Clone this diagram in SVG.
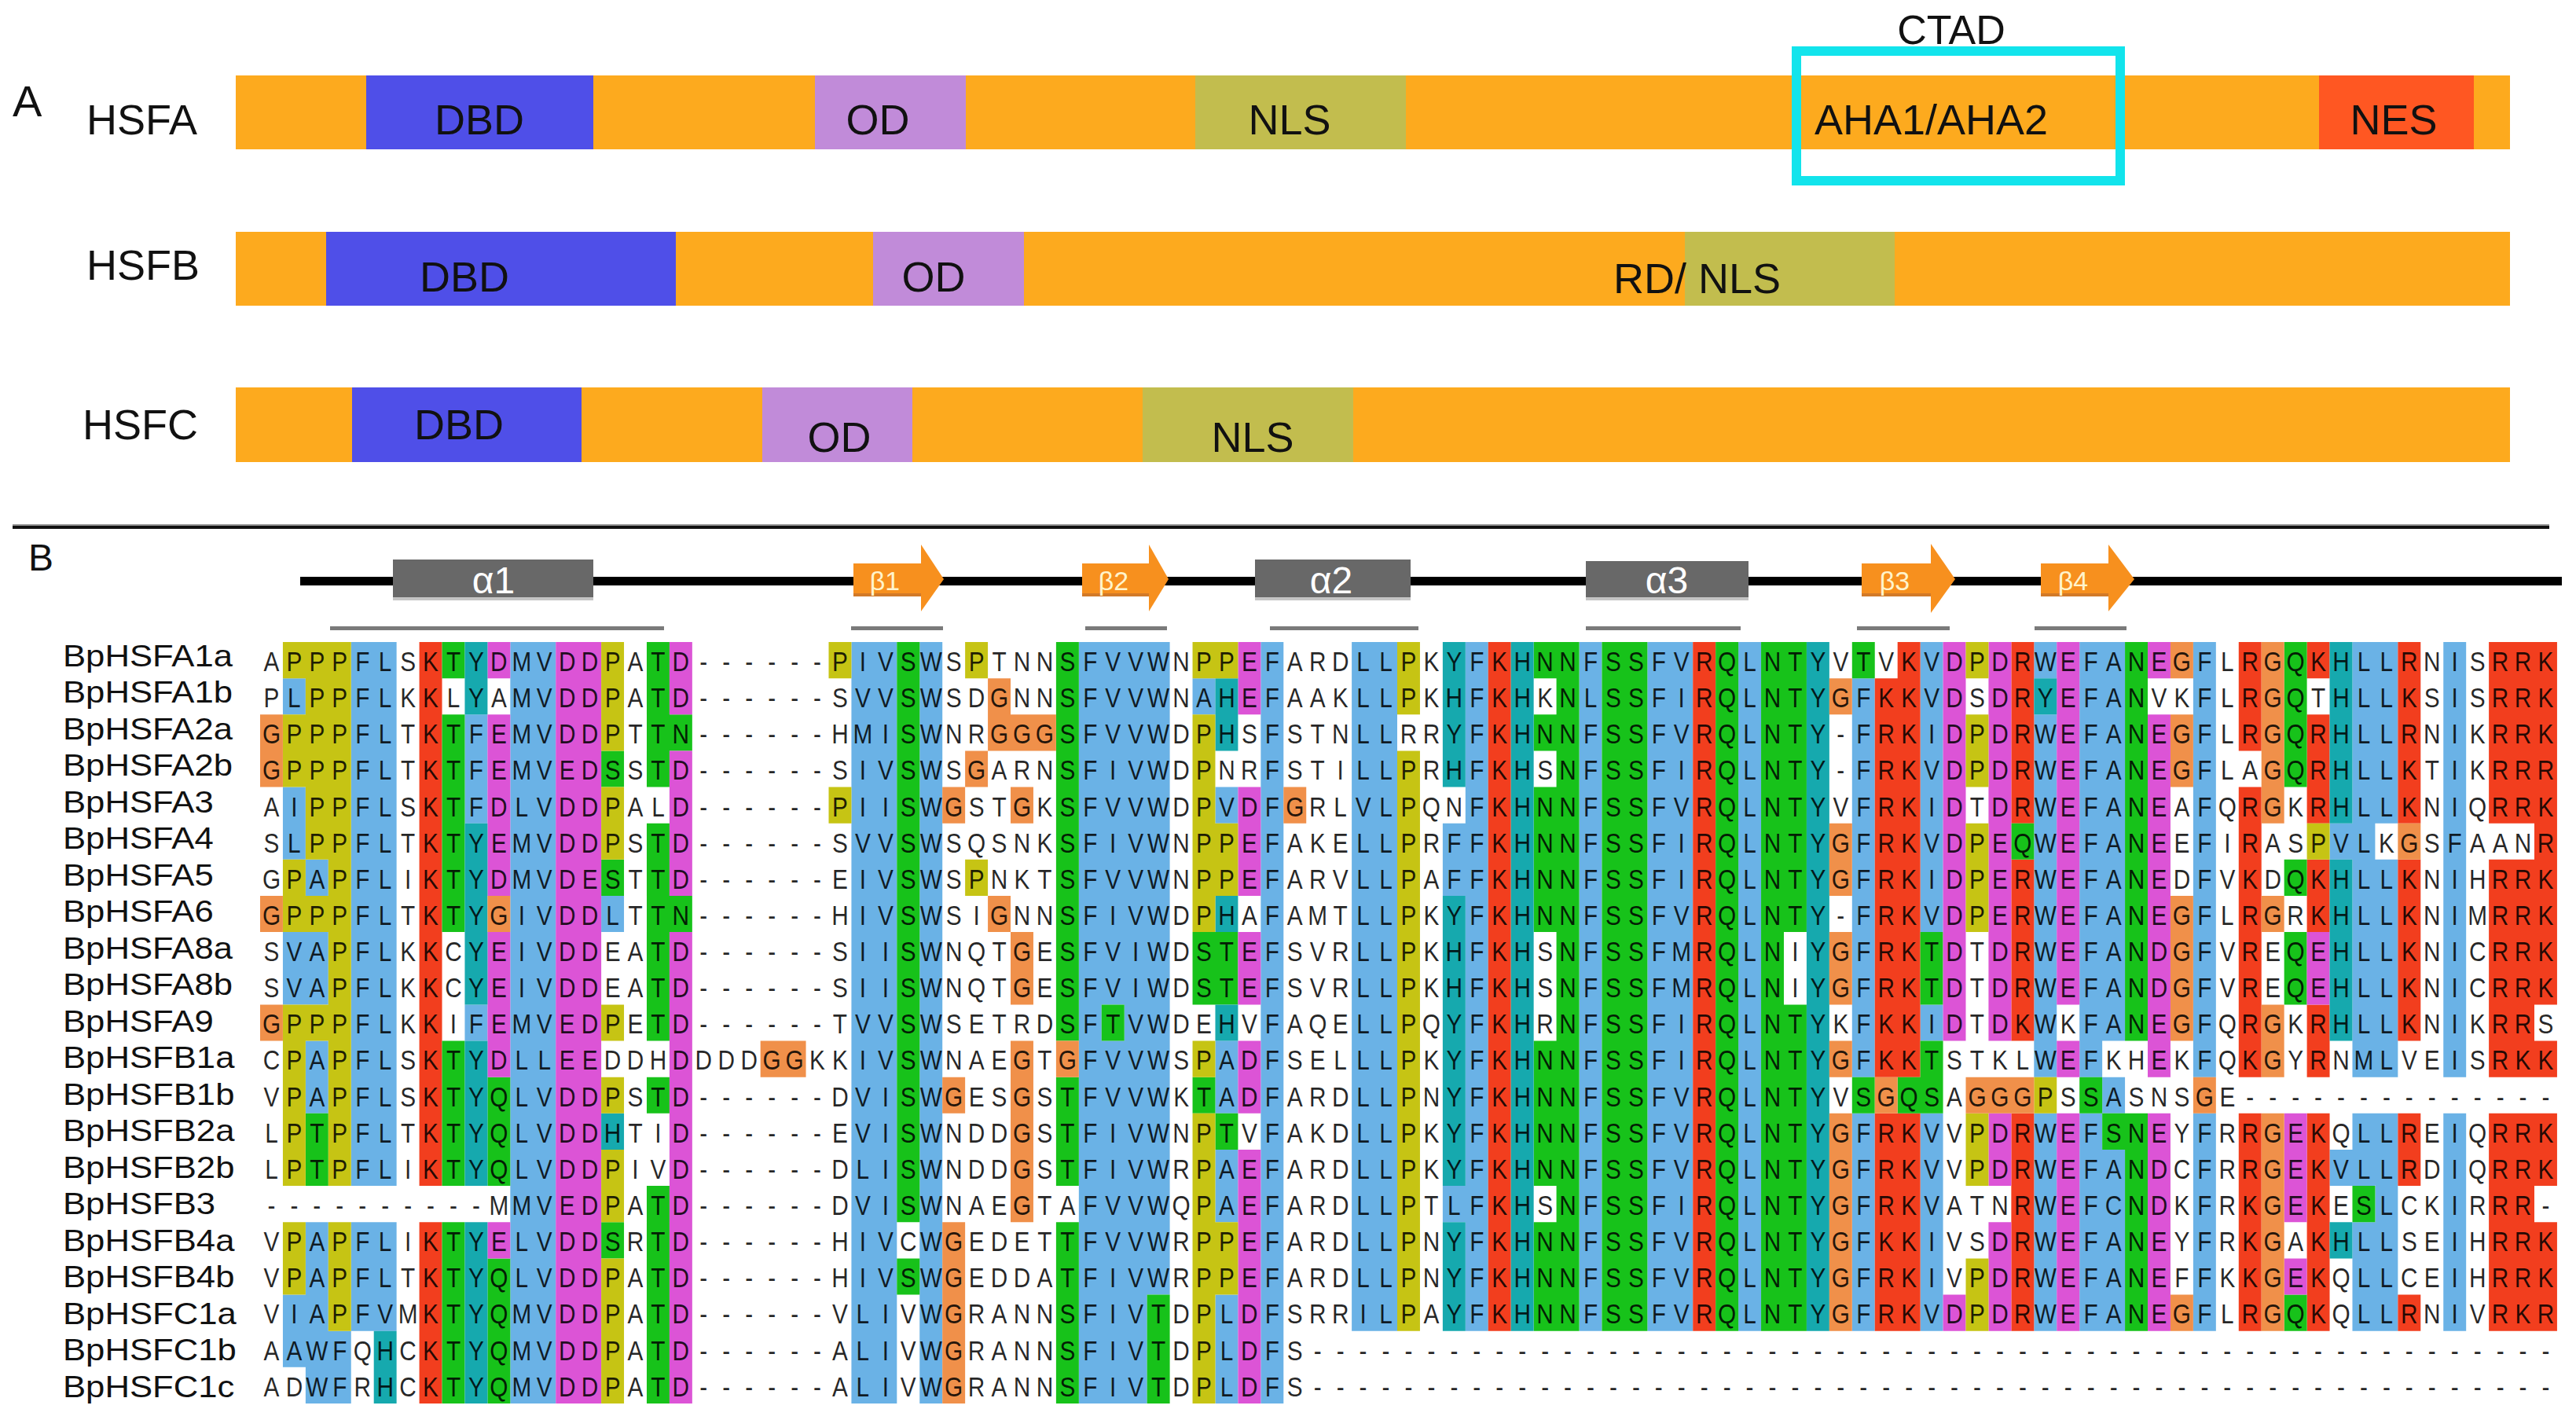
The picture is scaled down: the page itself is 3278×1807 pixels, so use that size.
<svg xmlns="http://www.w3.org/2000/svg" width="3278" height="1807" viewBox="0 0 3278 1807">
<style>
text{font-family:"Liberation Sans",Arial,sans-serif}
.lab{font-size:54px;fill:#111}
.seg{font-size:54px;fill:#111;text-anchor:middle}
.or{fill:#FDAA1E}.dbd{fill:#4F4FE8}.od{fill:#C18BD9}.nls{fill:#C2BD4E}.nes{fill:#FF5722}
.b{fill:#6AB2E6}.r{fill:#F23E1E}.g{fill:#17C21A}.m{fill:#DC54D6}.c{fill:#16A9AE}.y{fill:#C6C414}.o{fill:#F0904A}
.res{font-size:35px;text-anchor:middle;fill:#000;fill-opacity:0.85}
.nm{font-size:39px;fill:#111}
.hx{fill:#686868}.hxs{fill:#C4C4C4}
.st{fill:#F7901E}.sts{fill:#D27A28}
.ul{fill:#7A7A7A}
.al{font-size:48px;fill:#fff;text-anchor:middle}
.bl{font-size:34px;fill:#FFF4CC;text-anchor:middle}
</style>
<rect width="3278" height="1807" fill="#fff"/>

<g id="panel-A">
<text x="16" y="148" style="font-size:56px" fill="#111">A</text>
<g id="hsfa">
<text class="lab" x="110" y="171">HSFA</text>
<rect class="or" x="300" y="96" width="2894" height="94"/>
<rect class="dbd" x="466" y="96" width="289" height="94"/>
<rect class="od" x="1037" y="96" width="192" height="94"/>
<rect class="nls" x="1521" y="96" width="268" height="94"/>
<rect class="nes" x="2951" y="96" width="197" height="94"/>
<text class="seg" x="610" y="171">DBD</text>
<text class="seg" x="1117" y="171">OD</text>
<text class="seg" x="1641" y="171">NLS</text>
<text class="lab" x="2309" y="171">AHA1/AHA2</text>
<text class="seg" x="3046" y="171">NES</text>
</g>
<g id="ctad">
<rect x="2286" y="65" width="412" height="165" fill="none" stroke="#12E4EC" stroke-width="12"/>
<text x="2483" y="56" style="font-size:52px" fill="#111" text-anchor="middle">CTAD</text>
</g>
<g id="hsfb">
<text class="lab" x="110" y="356">HSFB</text>
<rect class="or" x="300" y="295" width="2894" height="94"/>
<rect class="dbd" x="415" y="295" width="445" height="94"/>
<rect class="od" x="1111" y="295" width="192" height="94"/>
<rect class="nls" x="2144" y="295" width="267" height="94"/>
<text class="seg" x="591" y="371">DBD</text>
<text class="seg" x="1188" y="371">OD</text>
<text class="lab" x="2053" y="373">RD/ NLS</text>
</g>
<g id="hsfc">
<text class="lab" x="105" y="559">HSFC</text>
<rect class="or" x="300" y="493" width="2894" height="95"/>
<rect class="dbd" x="448" y="493" width="292" height="95"/>
<rect class="od" x="970" y="493" width="191" height="95"/>
<rect class="nls" x="1454" y="493" width="268" height="95"/>
<text class="seg" x="584" y="559">DBD</text>
<text class="seg" x="1068" y="575">OD</text>
<text class="seg" x="1594" y="575">NLS</text>
</g>
</g>

<g id="separator">
<rect x="16" y="667" width="3228" height="2" fill="#999"/>
<rect x="16" y="669" width="3228" height="4" fill="#111"/>
</g>

<g id="panel-B">
<text x="36" y="726" style="font-size:48px" fill="#111">B</text>
<g id="secondary-structure">
<rect x="382" y="734" width="2878" height="11" fill="#000"/>
<g id="a1"><rect class="hx" x="500" y="712" width="255" height="51"/><rect class="hxs" x="500" y="760" width="255" height="4"/><text class="al" x="628" y="755">α1</text></g>
<g id="b1"><rect class="st" x="1086" y="717" width="86" height="42"/><rect class="sts" x="1086" y="755" width="86" height="4"/><polygon class="st" points="1172,693 1201,737 1172,778"/><text class="bl" x="1126" y="751">β1</text></g>
<g id="b2"><rect class="st" x="1377" y="717" width="85" height="42"/><rect class="sts" x="1377" y="755" width="85" height="4"/><polygon class="st" points="1462,693 1487,737 1462,778"/><text class="bl" x="1417" y="751">β2</text></g>
<g id="a2"><rect class="hx" x="1597" y="712" width="198" height="51"/><rect class="hxs" x="1597" y="760" width="198" height="4"/><text class="al" x="1694" y="755">α2</text></g>
<g id="a3"><rect class="hx" x="2018" y="714" width="207" height="49"/><rect class="hxs" x="2018" y="760" width="207" height="4"/><text class="al" x="2121" y="755">α3</text></g>
<g id="b3"><rect class="st" x="2369" y="717" width="88" height="42"/><rect class="sts" x="2369" y="755" width="88" height="4"/><polygon class="st" points="2457,692 2488,737 2457,780"/><text class="bl" x="2411" y="751">β3</text></g>
<g id="b4"><rect class="st" x="2597" y="717" width="86" height="42"/><rect class="sts" x="2597" y="755" width="86" height="4"/><polygon class="st" points="2683,693 2716,737 2683,778"/><text class="bl" x="2638" y="751">β4</text></g>
<g id="underlines">
<rect class="ul" x="420" y="797" width="425" height="5"/>
<rect class="ul" x="1083" y="797" width="117" height="5"/>
<rect class="ul" x="1381" y="797" width="104" height="5"/>
<rect class="ul" x="1616" y="797" width="189" height="5"/>
<rect class="ul" x="2018" y="797" width="197" height="5"/>
<rect class="ul" x="2363" y="797" width="118" height="5"/>
<rect class="ul" x="2589" y="797" width="117" height="5"/>
</g>
</g>

<g id="alignment">
<g id="aln-bg" transform="matrix(28.94 0 0 46.14 331 817)">
<path class="b" d="M1 1h1v1h-1zM1 4h1v2h-1zM1 8h1v2h-1zM1 18h1v2h-1zM2 6h1v1h-1zM2 8h1v2h-1zM2 11h1v2h-1zM2 16h1v5h-1zM3 19h1v2h-1zM4 0h2v15h-2zM4 16h2v3h-2zM9 2h1v3h-1zM9 10h1v1h-1zM11 0h2v21h-2zM15 7h1v1h-1zM26 0h2v21h-2zM29 0h1v21h-1zM36 0h1v21h-1zM37 0h1v10h-1zM37 11h1v10h-1zM38 0h1v21h-1zM39 0h1v18h-1zM41 1h1v1h-1zM42 4h1v1h-1zM42 11h1v2h-1zM42 14h1v2h-1zM42 18h1v3h-1zM44 0h1v21h-1zM48 0h2v19h-2zM52 5h1v2h-1zM52 15h1v1h-1zM53 0h1v19h-1zM58 0h1v19h-1zM61 0h2v19h-2zM65 0h1v19h-1zM70 1h1v11h-1zM70 13h1v6h-1zM73 0h1v8h-1zM73 10h1v1h-1zM73 13h1v6h-1zM78 0h1v1h-1zM78 2h1v10h-1zM78 13h1v6h-1zM80 0h1v12h-1zM80 13h1v6h-1zM81 0h1v11h-1zM81 12h1v1h-1zM81 14h1v5h-1zM85 0h1v12h-1zM85 13h1v6h-1zM91 5h1v1h-1zM91 14h1v1h-1zM92 0h1v12h-1zM92 13h1v2h-1zM92 16h1v3h-1zM93 0h1v5h-1zM93 6h1v6h-1zM93 13h1v6h-1zM96 0h1v12h-1zM96 13h1v6h-1z"/>
<path class="r" d="M7 0h1v15h-1zM7 16h1v5h-1zM54 0h1v19h-1zM63 0h1v19h-1zM71 1h1v11h-1zM72 0h1v12h-1zM71 13h2v6h-2zM77 0h1v5h-1zM77 6h1v5h-1zM77 13h1v6h-1zM87 0h1v3h-1zM87 4h1v8h-1zM87 13h1v6h-1zM90 0h1v1h-1zM90 2h1v3h-1zM90 6h1v2h-1zM90 10h1v2h-1zM90 13h1v6h-1zM94 0h1v5h-1zM94 6h1v5h-1zM94 13h1v2h-1zM94 18h1v1h-1zM98 0h2v5h-2zM98 6h2v6h-2zM98 13h2v6h-2zM100 0h1v10h-1zM100 11h1v1h-1zM100 13h1v2h-1zM100 16h1v3h-1z"/>
<path class="g" d="M2 13h1v2h-1zM8 0h1v1h-1zM8 2h1v6h-1zM8 11h1v4h-1zM8 16h1v5h-1zM10 12h1v3h-1zM10 17h1v4h-1zM15 3h1v1h-1zM15 6h1v1h-1zM15 16h1v1h-1zM17 0h1v4h-1zM17 5h1v6h-1zM17 12h1v1h-1zM17 15h1v6h-1zM18 2h1v1h-1zM18 7h1v1h-1zM28 0h1v16h-1zM28 17h1v1h-1zM35 0h1v11h-1zM35 12h1v3h-1zM35 16h1v5h-1zM37 10h1v1h-1zM39 18h1v3h-1zM41 8h2v2h-2zM41 12h1v1h-1zM42 13h1v1h-1zM56 0h1v1h-1zM56 2h1v1h-1zM56 4h1v4h-1zM56 11h1v4h-1zM56 16h1v3h-1zM57 0h1v19h-1zM59 0h2v19h-2zM64 0h1v19h-1zM66 0h1v19h-1zM67 0h1v8h-1zM67 10h1v9h-1zM70 0h1v1h-1zM70 12h1v1h-1zM72 12h1v1h-1zM73 8h1v2h-1zM73 11h1v2h-1zM77 5h1v1h-1zM80 12h1v1h-1zM81 13h1v1h-1zM82 0h1v11h-1zM82 13h1v6h-1zM89 0h1v4h-1zM89 6h1v1h-1zM89 8h1v2h-1zM89 18h1v1h-1zM92 15h1v1h-1z"/>
<path class="m" d="M10 0h1v1h-1zM10 2h1v5h-1zM10 8h1v4h-1zM10 16h1v1h-1zM13 0h2v21h-2zM18 0h1v2h-1zM18 3h1v4h-1zM18 8h1v13h-1zM43 0h1v2h-1zM43 4h1v3h-1zM43 8h1v2h-1zM43 11h1v2h-1zM43 14h1v7h-1zM74 0h1v11h-1zM74 18h1v1h-1zM76 0h1v11h-1zM76 13h1v2h-1zM76 16h1v3h-1zM79 0h1v10h-1zM79 11h1v1h-1zM79 13h1v6h-1zM83 0h1v1h-1zM83 2h1v10h-1zM83 13h1v6h-1zM89 13h1v3h-1zM89 17h1v1h-1zM90 8h1v2h-1z"/>
<path class="c" d="M5 19h1v2h-1zM9 0h1v2h-1zM9 5h1v5h-1zM9 11h1v4h-1zM9 16h1v5h-1zM15 13h1v1h-1zM42 1h1v2h-1zM42 7h1v1h-1zM42 10h1v1h-1zM52 0h1v4h-1zM52 7h1v8h-1zM52 16h1v3h-1zM55 0h1v19h-1zM68 0h1v19h-1zM78 1h1v1h-1zM91 0h1v5h-1zM91 6h1v5h-1zM91 16h1v1h-1z"/>
<path class="y" d="M1 0h1v1h-1zM1 2h1v2h-1zM1 6h1v2h-1zM1 10h1v5h-1zM1 16h1v2h-1zM2 0h1v6h-1zM2 7h1v1h-1zM2 10h1v1h-1zM3 0h1v15h-1zM3 16h1v3h-1zM15 0h1v3h-1zM15 4h1v2h-1zM15 10h1v1h-1zM15 12h1v1h-1zM15 14h1v2h-1zM15 17h1v4h-1zM25 0h1v1h-1zM25 4h1v1h-1zM31 0h1v1h-1zM31 6h1v1h-1zM41 0h1v1h-1zM41 2h1v6h-1zM41 11h1v1h-1zM41 13h1v8h-1zM42 0h1v1h-1zM42 5h1v2h-1zM42 16h1v2h-1zM50 0h1v2h-1zM50 3h1v16h-1zM75 0h1v1h-1zM75 2h1v2h-1zM75 5h1v3h-1zM75 13h1v2h-1zM75 17h1v2h-1zM78 12h1v1h-1zM90 5h1v1h-1z"/>
<path class="o" d="M0 2h1v2h-1zM0 7h1v1h-1zM0 10h1v1h-1zM10 7h1v1h-1zM22 11h2v1h-2zM30 4h1v1h-1zM30 12h1v1h-1zM30 16h1v5h-1zM31 3h1v1h-1zM32 1h1v2h-1zM32 7h1v1h-1zM33 2h2v1h-2zM33 4h1v1h-1zM33 8h1v2h-1zM33 11h1v5h-1zM35 11h1v1h-1zM45 4h1v1h-1zM69 1h1v1h-1zM69 5h1v2h-1zM69 8h1v2h-1zM69 11h1v1h-1zM69 13h1v6h-1zM71 12h1v1h-1zM75 12h3v1h-3zM84 0h1v1h-1zM84 2h1v2h-1zM84 7h1v4h-1zM84 18h1v1h-1zM85 12h1v1h-1zM88 0h1v5h-1zM88 7h1v1h-1zM88 10h1v2h-1zM88 13h1v6h-1zM94 5h1v1h-1z"/>
</g>

<g id="aln-names" class="nm" transform="matrix(1.12 0 0 1 80 0)">
<text x="0" y="848">BpHSFA1a</text>
<text x="0" y="894.5">BpHSFA1b</text>
<text x="0" y="941">BpHSFA2a</text>
<text x="0" y="987.5">BpHSFA2b</text>
<text x="0" y="1034">BpHSFA3</text>
<text x="0" y="1080.5">BpHSFA4</text>
<text x="0" y="1127">BpHSFA5</text>
<text x="0" y="1173.5">BpHSFA6</text>
<text x="0" y="1220">BpHSFA8a</text>
<text x="0" y="1266.5">BpHSFA8b</text>
<text x="0" y="1313">BpHSFA9</text>
<text x="0" y="1359.5">BpHSFB1a</text>
<text x="0" y="1406">BpHSFB1b</text>
<text x="0" y="1452.5">BpHSFB2a</text>
<text x="0" y="1499">BpHSFB2b</text>
<text x="0" y="1545.5">BpHSFB3</text>
<text x="0" y="1592">BpHSFB4a</text>
<text x="0" y="1638.5">BpHSFB4b</text>
<text x="0" y="1685">BpHSFC1a</text>
<text x="0" y="1731.5">BpHSFC1b</text>
<text x="0" y="1778">BpHSFC1c</text>
</g>

<g id="aln-residues" class="res" transform="matrix(0.85118 0 0 1 331 0)">
<text y="854" x="17 51 85 119 153 187 221 255 289 323 357 391 425 459 493 527 561 595 629 663 697 731 765 799 833 867 901 935 969 1003 1037 1071 1105 1139 1173 1207 1241 1275 1309 1343 1377 1411 1445 1479 1513 1547 1581 1615 1649 1683 1717 1751 1785 1819 1853 1887 1921 1955 1989 2023 2057 2091 2125 2159 2193 2227 2261 2295 2329 2363 2397 2431 2465 2499 2533 2567 2601 2635 2669 2703 2737 2771 2805 2839 2873 2907 2941 2975 3009 3043 3077 3111 3145 3179 3213 3247 3281 3315 3349 3383 3417">APPPFLSKTYDMVDDPATD------PIVSWSPTNNSFVVWNPPEFARDLLPKYFKHNNFSSFVRQLNTYVTVKVDPDRWEFANEGFLRGQKHLLRNISRRK</text>
<text y="900.1" x="17 51 85 119 153 187 221 255 289 323 357 391 425 459 493 527 561 595 629 663 697 731 765 799 833 867 901 935 969 1003 1037 1071 1105 1139 1173 1207 1241 1275 1309 1343 1377 1411 1445 1479 1513 1547 1581 1615 1649 1683 1717 1751 1785 1819 1853 1887 1921 1955 1989 2023 2057 2091 2125 2159 2193 2227 2261 2295 2329 2363 2397 2431 2465 2499 2533 2567 2601 2635 2669 2703 2737 2771 2805 2839 2873 2907 2941 2975 3009 3043 3077 3111 3145 3179 3213 3247 3281 3315 3349 3383 3417">PLPPFLKKLYAMVDDPATD------SVVSWSDGNNSFVVWNAHEFAAKLLPKHFKHKNLSSFIRQLNTYGFKKVDSDRYEFANVKFLRGQTHLLKSISRRK</text>
<text y="946.3" x="17 51 85 119 153 187 221 255 289 323 357 391 425 459 493 527 561 595 629 663 697 731 765 799 833 867 901 935 969 1003 1037 1071 1105 1139 1173 1207 1241 1275 1309 1343 1377 1411 1445 1479 1513 1547 1581 1615 1649 1683 1717 1751 1785 1819 1853 1887 1921 1955 1989 2023 2057 2091 2125 2159 2193 2227 2261 2295 2329 2363 2397 2431 2465 2499 2533 2567 2601 2635 2669 2703 2737 2771 2805 2839 2873 2907 2941 2975 3009 3043 3077 3111 3145 3179 3213 3247 3281 3315 3349 3383 3417">GPPPFLTKTFEMVDDPTTN------HMISWNRGGGSFVVWDPHSFSTNLLRRYFKHNNFSSFVRQLNTY-FRKIDPDRWEFANEGFLRGQRHLLRNIKRRK</text>
<text y="992.4" x="17 51 85 119 153 187 221 255 289 323 357 391 425 459 493 527 561 595 629 663 697 731 765 799 833 867 901 935 969 1003 1037 1071 1105 1139 1173 1207 1241 1275 1309 1343 1377 1411 1445 1479 1513 1547 1581 1615 1649 1683 1717 1751 1785 1819 1853 1887 1921 1955 1989 2023 2057 2091 2125 2159 2193 2227 2261 2295 2329 2363 2397 2431 2465 2499 2533 2567 2601 2635 2669 2703 2737 2771 2805 2839 2873 2907 2941 2975 3009 3043 3077 3111 3145 3179 3213 3247 3281 3315 3349 3383 3417">GPPPFLTKTFEMVEDSSTD------SIVSWSGARNSFIVWDPNRFSTILLPRHFKHSNFSSFIRQLNTY-FRKVDPDRWEFANEGFLAGQRHLLKTIKRRR</text>
<text y="1038.6" x="17 51 85 119 153 187 221 255 289 323 357 391 425 459 493 527 561 595 629 663 697 731 765 799 833 867 901 935 969 1003 1037 1071 1105 1139 1173 1207 1241 1275 1309 1343 1377 1411 1445 1479 1513 1547 1581 1615 1649 1683 1717 1751 1785 1819 1853 1887 1921 1955 1989 2023 2057 2091 2125 2159 2193 2227 2261 2295 2329 2363 2397 2431 2465 2499 2533 2567 2601 2635 2669 2703 2737 2771 2805 2839 2873 2907 2941 2975 3009 3043 3077 3111 3145 3179 3213 3247 3281 3315 3349 3383 3417">AIPPFLSKTFDLVDDPALD------PIISWGSTGKSFVVWDPVDFGRLVLPQNFKHNNFSSFVRQLNTYVFRKIDTDRWEFANEAFQRGKRHLLKNIQRRK</text>
<text y="1084.7" x="17 51 85 119 153 187 221 255 289 323 357 391 425 459 493 527 561 595 629 663 697 731 765 799 833 867 901 935 969 1003 1037 1071 1105 1139 1173 1207 1241 1275 1309 1343 1377 1411 1445 1479 1513 1547 1581 1615 1649 1683 1717 1751 1785 1819 1853 1887 1921 1955 1989 2023 2057 2091 2125 2159 2193 2227 2261 2295 2329 2363 2397 2431 2465 2499 2533 2567 2601 2635 2669 2703 2737 2771 2805 2839 2873 2907 2941 2975 3009 3043 3077 3111 3145 3179 3213 3247 3281 3315 3349 3383 3417">SLPPFLTKTYEMVDDPSTD------SVVSWSQSNKSFIVWNPPEFAKELLPRFFKHNNFSSFIRQLNTYGFRKVDPEQWEFANEEFIRASPVLKGSFAANR</text>
<text y="1130.8" x="17 51 85 119 153 187 221 255 289 323 357 391 425 459 493 527 561 595 629 663 697 731 765 799 833 867 901 935 969 1003 1037 1071 1105 1139 1173 1207 1241 1275 1309 1343 1377 1411 1445 1479 1513 1547 1581 1615 1649 1683 1717 1751 1785 1819 1853 1887 1921 1955 1989 2023 2057 2091 2125 2159 2193 2227 2261 2295 2329 2363 2397 2431 2465 2499 2533 2567 2601 2635 2669 2703 2737 2771 2805 2839 2873 2907 2941 2975 3009 3043 3077 3111 3145 3179 3213 3247 3281 3315 3349 3383 3417">GPAPFLIKTYDMVDESTTD------EIVSWSPNKTSFVVWNPPEFARVLLPAFFKHNNFSSFIRQLNTYGFRKIDPERWEFANEDFVKDQKHLLKNIHRRK</text>
<text y="1177" x="17 51 85 119 153 187 221 255 289 323 357 391 425 459 493 527 561 595 629 663 697 731 765 799 833 867 901 935 969 1003 1037 1071 1105 1139 1173 1207 1241 1275 1309 1343 1377 1411 1445 1479 1513 1547 1581 1615 1649 1683 1717 1751 1785 1819 1853 1887 1921 1955 1989 2023 2057 2091 2125 2159 2193 2227 2261 2295 2329 2363 2397 2431 2465 2499 2533 2567 2601 2635 2669 2703 2737 2771 2805 2839 2873 2907 2941 2975 3009 3043 3077 3111 3145 3179 3213 3247 3281 3315 3349 3383 3417">GPPPFLTKTYGIVDDLTTN------HIVSWSIGNNSFIVWDPHAFAMTLLPKYFKHNNFSSFVRQLNTY-FRKVDPERWEFANEGFLRGRKHLLKNIMRRK</text>
<text y="1223.1" x="17 51 85 119 153 187 221 255 289 323 357 391 425 459 493 527 561 595 629 663 697 731 765 799 833 867 901 935 969 1003 1037 1071 1105 1139 1173 1207 1241 1275 1309 1343 1377 1411 1445 1479 1513 1547 1581 1615 1649 1683 1717 1751 1785 1819 1853 1887 1921 1955 1989 2023 2057 2091 2125 2159 2193 2227 2261 2295 2329 2363 2397 2431 2465 2499 2533 2567 2601 2635 2669 2703 2737 2771 2805 2839 2873 2907 2941 2975 3009 3043 3077 3111 3145 3179 3213 3247 3281 3315 3349 3383 3417">SVAPFLKKCYEIVDDEATD------SIISWNQTGESFVIWDSTEFSVRLLPKHFKHSNFSSFMRQLNIYGFRKTDTDRWEFANDGFVREQEHLLKNICRRK</text>
<text y="1269.3" x="17 51 85 119 153 187 221 255 289 323 357 391 425 459 493 527 561 595 629 663 697 731 765 799 833 867 901 935 969 1003 1037 1071 1105 1139 1173 1207 1241 1275 1309 1343 1377 1411 1445 1479 1513 1547 1581 1615 1649 1683 1717 1751 1785 1819 1853 1887 1921 1955 1989 2023 2057 2091 2125 2159 2193 2227 2261 2295 2329 2363 2397 2431 2465 2499 2533 2567 2601 2635 2669 2703 2737 2771 2805 2839 2873 2907 2941 2975 3009 3043 3077 3111 3145 3179 3213 3247 3281 3315 3349 3383 3417">SVAPFLKKCYEIVDDEATD------SIISWNQTGESFVIWDSTEFSVRLLPKHFKHSNFSSFMRQLNIYGFRKTDTDRWEFANDGFVREQEHLLKNICRRK</text>
<text y="1315.4" x="17 51 85 119 153 187 221 255 289 323 357 391 425 459 493 527 561 595 629 663 697 731 765 799 833 867 901 935 969 1003 1037 1071 1105 1139 1173 1207 1241 1275 1309 1343 1377 1411 1445 1479 1513 1547 1581 1615 1649 1683 1717 1751 1785 1819 1853 1887 1921 1955 1989 2023 2057 2091 2125 2159 2193 2227 2261 2295 2329 2363 2397 2431 2465 2499 2533 2567 2601 2635 2669 2703 2737 2771 2805 2839 2873 2907 2941 2975 3009 3043 3077 3111 3145 3179 3213 3247 3281 3315 3349 3383 3417">GPPPFLKKIFEMVEDPETD------TVVSWSETRDSFTVWDEHVFAQELLPQYFKHRNFSSFIRQLNTYKFKKIDTDKWKFANEGFQRGKRHLLKNIKRRS</text>
<text y="1361.5" x="17 51 85 119 153 187 221 255 289 323 357 391 425 459 493 527 561 595 629 663 697 731 765 799 833 867 901 935 969 1003 1037 1071 1105 1139 1173 1207 1241 1275 1309 1343 1377 1411 1445 1479 1513 1547 1581 1615 1649 1683 1717 1751 1785 1819 1853 1887 1921 1955 1989 2023 2057 2091 2125 2159 2193 2227 2261 2295 2329 2363 2397 2431 2465 2499 2533 2567 2601 2635 2669 2703 2737 2771 2805 2839 2873 2907 2941 2975 3009 3043 3077 3111 3145 3179 3213 3247 3281 3315 3349 3383 3417">CPAPFLSKTYDLLEEDDHDDDDGGKKIVSWNAEGTGFVVWSPADFSELLLPKYFKHNNFSSFIRQLNTYGFKKTSTKLWEFKHEKFQKGYRNMLVEISRKK</text>
<text y="1407.7" x="17 51 85 119 153 187 221 255 289 323 357 391 425 459 493 527 561 595 629 663 697 731 765 799 833 867 901 935 969 1003 1037 1071 1105 1139 1173 1207 1241 1275 1309 1343 1377 1411 1445 1479 1513 1547 1581 1615 1649 1683 1717 1751 1785 1819 1853 1887 1921 1955 1989 2023 2057 2091 2125 2159 2193 2227 2261 2295 2329 2363 2397 2431 2465 2499 2533 2567 2601 2635 2669 2703 2737 2771 2805 2839 2873 2907 2941 2975 3009 3043 3077 3111 3145 3179 3213 3247 3281 3315 3349 3383 3417">VPAPFLSKTYQLVDDPSTD------DVISWGESGSTFVVWKTADFARDLLPNYFKHNNFSSFVRQLNTYVSGQSAGGGPSSASNSGE--------------</text>
<text y="1453.8" x="17 51 85 119 153 187 221 255 289 323 357 391 425 459 493 527 561 595 629 663 697 731 765 799 833 867 901 935 969 1003 1037 1071 1105 1139 1173 1207 1241 1275 1309 1343 1377 1411 1445 1479 1513 1547 1581 1615 1649 1683 1717 1751 1785 1819 1853 1887 1921 1955 1989 2023 2057 2091 2125 2159 2193 2227 2261 2295 2329 2363 2397 2431 2465 2499 2533 2567 2601 2635 2669 2703 2737 2771 2805 2839 2873 2907 2941 2975 3009 3043 3077 3111 3145 3179 3213 3247 3281 3315 3349 3383 3417">LPTPFLTKTYQLVDDHTID------EVISWNDDGSTFIVWNPTVFAKDLLPKYFKHNNFSSFVRQLNTYGFRKVVPDRWEFSNEYFRRGEKQLLREIQRRK</text>
<text y="1500" x="17 51 85 119 153 187 221 255 289 323 357 391 425 459 493 527 561 595 629 663 697 731 765 799 833 867 901 935 969 1003 1037 1071 1105 1139 1173 1207 1241 1275 1309 1343 1377 1411 1445 1479 1513 1547 1581 1615 1649 1683 1717 1751 1785 1819 1853 1887 1921 1955 1989 2023 2057 2091 2125 2159 2193 2227 2261 2295 2329 2363 2397 2431 2465 2499 2533 2567 2601 2635 2669 2703 2737 2771 2805 2839 2873 2907 2941 2975 3009 3043 3077 3111 3145 3179 3213 3247 3281 3315 3349 3383 3417">LPTPFLIKTYQLVDDPIVD------DLISWNDDGSTFIVWRPAEFARDLLPKYFKHNNFSSFVRQLNTYGFRKVVPDRWEFANDCFRRGEKVLLRDIQRRK</text>
<text y="1546.1" x="17 51 85 119 153 187 221 255 289 323 357 391 425 459 493 527 561 595 629 663 697 731 765 799 833 867 901 935 969 1003 1037 1071 1105 1139 1173 1207 1241 1275 1309 1343 1377 1411 1445 1479 1513 1547 1581 1615 1649 1683 1717 1751 1785 1819 1853 1887 1921 1955 1989 2023 2057 2091 2125 2159 2193 2227 2261 2295 2329 2363 2397 2431 2465 2499 2533 2567 2601 2635 2669 2703 2737 2771 2805 2839 2873 2907 2941 2975 3009 3043 3077 3111 3145 3179 3213 3247 3281 3315 3349 3383 3417">----------MMVEDPATD------DVISWNAEGTAFVVWQPAEFARDLLPTLFKHSNFSSFIRQLNTYGFRKVATNRWEFCNDKFRKGEKESLCKIRRR-</text>
<text y="1592.2" x="17 51 85 119 153 187 221 255 289 323 357 391 425 459 493 527 561 595 629 663 697 731 765 799 833 867 901 935 969 1003 1037 1071 1105 1139 1173 1207 1241 1275 1309 1343 1377 1411 1445 1479 1513 1547 1581 1615 1649 1683 1717 1751 1785 1819 1853 1887 1921 1955 1989 2023 2057 2091 2125 2159 2193 2227 2261 2295 2329 2363 2397 2431 2465 2499 2533 2567 2601 2635 2669 2703 2737 2771 2805 2839 2873 2907 2941 2975 3009 3043 3077 3111 3145 3179 3213 3247 3281 3315 3349 3383 3417">VPAPFLIKTYELVDDSRTD------HIVCWGEDETTFVVWRPPEFARDLLPNYFKHNNFSSFVRQLNTYGFKKIVSDRWEFANEYFRKGAKHLLSEIHRRK</text>
<text y="1638.4" x="17 51 85 119 153 187 221 255 289 323 357 391 425 459 493 527 561 595 629 663 697 731 765 799 833 867 901 935 969 1003 1037 1071 1105 1139 1173 1207 1241 1275 1309 1343 1377 1411 1445 1479 1513 1547 1581 1615 1649 1683 1717 1751 1785 1819 1853 1887 1921 1955 1989 2023 2057 2091 2125 2159 2193 2227 2261 2295 2329 2363 2397 2431 2465 2499 2533 2567 2601 2635 2669 2703 2737 2771 2805 2839 2873 2907 2941 2975 3009 3043 3077 3111 3145 3179 3213 3247 3281 3315 3349 3383 3417">VPAPFLTKTYQLVDDPATD------HIVSWGEDDATFIVWRPPEFARDLLPNYFKHNNFSSFVRQLNTYGFRKIVPDRWEFANEFFKKGEKQLLCEIHRRK</text>
<text y="1684.5" x="17 51 85 119 153 187 221 255 289 323 357 391 425 459 493 527 561 595 629 663 697 731 765 799 833 867 901 935 969 1003 1037 1071 1105 1139 1173 1207 1241 1275 1309 1343 1377 1411 1445 1479 1513 1547 1581 1615 1649 1683 1717 1751 1785 1819 1853 1887 1921 1955 1989 2023 2057 2091 2125 2159 2193 2227 2261 2295 2329 2363 2397 2431 2465 2499 2533 2567 2601 2635 2669 2703 2737 2771 2805 2839 2873 2907 2941 2975 3009 3043 3077 3111 3145 3179 3213 3247 3281 3315 3349 3383 3417">VIAPFVMKTYQMVDDPATD------VLIVWGRANNSFIVTDPLDFSRRILPAYFKHNNFSSFVRQLNTYGFRKVDPDRWEFANEGFLRGQKQLLRNIVRKR</text>
<text y="1730.7" x="17 51 85 119 153 187 221 255 289 323 357 391 425 459 493 527 561 595 629 663 697 731 765 799 833 867 901 935 969 1003 1037 1071 1105 1139 1173 1207 1241 1275 1309 1343 1377 1411 1445 1479 1513 1547 1581 1615 1649 1683 1717 1751 1785 1819 1853 1887 1921 1955 1989 2023 2057 2091 2125 2159 2193 2227 2261 2295 2329 2363 2397 2431 2465 2499 2533 2567 2601 2635 2669 2703 2737 2771 2805 2839 2873 2907 2941 2975 3009 3043 3077 3111 3145 3179 3213 3247 3281 3315 3349 3383 3417">AAWFQHCKTYQMVDDPATD------ALIVWGRANNSFIVTDPLDFS-------------------------------------------------------</text>
<text y="1776.8" x="17 51 85 119 153 187 221 255 289 323 357 391 425 459 493 527 561 595 629 663 697 731 765 799 833 867 901 935 969 1003 1037 1071 1105 1139 1173 1207 1241 1275 1309 1343 1377 1411 1445 1479 1513 1547 1581 1615 1649 1683 1717 1751 1785 1819 1853 1887 1921 1955 1989 2023 2057 2091 2125 2159 2193 2227 2261 2295 2329 2363 2397 2431 2465 2499 2533 2567 2601 2635 2669 2703 2737 2771 2805 2839 2873 2907 2941 2975 3009 3043 3077 3111 3145 3179 3213 3247 3281 3315 3349 3383 3417">ADWFRHCKTYQMVDDPATD------ALIVWGRANNSFIVTDPLDFS-------------------------------------------------------</text>
</g>
</g>
</g>
</svg>
